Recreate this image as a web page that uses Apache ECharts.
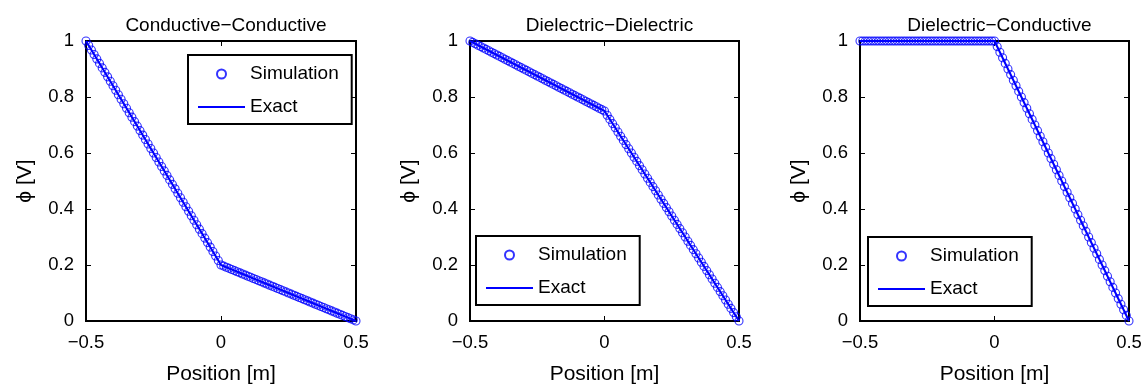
<!DOCTYPE html>
<html>
<head>
<meta charset="utf-8">
<script src="https://cdn.jsdelivr.net/npm/echarts@6/dist/echarts.min.js"></script>
<style>
html, body { margin: 0; padding: 0; background: #fff; }
#echarts { width: 1145px; height: 390px; }
</style>
</head>
<body>
<div id="echarts"></div>
<script>
// 子图标题
var titles = ['Conductive\u2212Conductive', 'Dielectric\u2212Dielectric', 'Dielectric\u2212Conductive'];

// 仿真点的位置 (m)
var positions = [
  -0.50, -0.49, -0.48, -0.47, -0.46, -0.45, -0.44, -0.43, -0.42, -0.41,
  -0.40, -0.39, -0.38, -0.37, -0.36, -0.35, -0.34, -0.33, -0.32, -0.31,
  -0.30, -0.29, -0.28, -0.27, -0.26, -0.25, -0.24, -0.23, -0.22, -0.21,
  -0.20, -0.19, -0.18, -0.17, -0.16, -0.15, -0.14, -0.13, -0.12, -0.11,
  -0.10, -0.09, -0.08, -0.07, -0.06, -0.05, -0.04, -0.03, -0.02, -0.01,
  0.00,
  0.01, 0.02, 0.03, 0.04, 0.05, 0.06, 0.07, 0.08, 0.09, 0.10,
  0.11, 0.12, 0.13, 0.14, 0.15, 0.16, 0.17, 0.18, 0.19, 0.20,
  0.21, 0.22, 0.23, 0.24, 0.25, 0.26, 0.27, 0.28, 0.29, 0.30,
  0.31, 0.32, 0.33, 0.34, 0.35, 0.36, 0.37, 0.38, 0.39, 0.40,
  0.41, 0.42, 0.43, 0.44, 0.45, 0.46, 0.47, 0.48, 0.49, 0.50
];

// 仿真电势 (V)
var ccSimulation = [
  1.000, 0.984, 0.968, 0.952, 0.936, 0.920, 0.904, 0.888, 0.872, 0.856,
  0.840, 0.824, 0.808, 0.792, 0.776, 0.760, 0.744, 0.728, 0.712, 0.696,
  0.680, 0.664, 0.648, 0.632, 0.616, 0.600, 0.584, 0.568, 0.552, 0.536,
  0.520, 0.504, 0.488, 0.472, 0.456, 0.440, 0.424, 0.408, 0.392, 0.376,
  0.360, 0.344, 0.328, 0.312, 0.296, 0.280, 0.264, 0.248, 0.232, 0.216,
  0.200,
  0.196, 0.192, 0.188, 0.184, 0.180, 0.176, 0.172, 0.168, 0.164, 0.160,
  0.156, 0.152, 0.148, 0.144, 0.140, 0.136, 0.132, 0.128, 0.124, 0.120,
  0.116, 0.112, 0.108, 0.104, 0.100, 0.096, 0.092, 0.088, 0.084, 0.080,
  0.076, 0.072, 0.068, 0.064, 0.060, 0.056, 0.052, 0.048, 0.044, 0.040,
  0.036, 0.032, 0.028, 0.024, 0.020, 0.016, 0.012, 0.008, 0.004, 0.000
];
var ddSimulation = [
  1.000, 0.995, 0.990, 0.985, 0.980, 0.975, 0.970, 0.965, 0.960, 0.955,
  0.950, 0.945, 0.940, 0.935, 0.930, 0.925, 0.920, 0.915, 0.910, 0.905,
  0.900, 0.895, 0.890, 0.885, 0.880, 0.875, 0.870, 0.865, 0.860, 0.855,
  0.850, 0.845, 0.840, 0.835, 0.830, 0.825, 0.820, 0.815, 0.810, 0.805,
  0.800, 0.795, 0.790, 0.785, 0.780, 0.775, 0.770, 0.765, 0.760, 0.755,
  0.750,
  0.735, 0.720, 0.705, 0.690, 0.675, 0.660, 0.645, 0.630, 0.615, 0.600,
  0.585, 0.570, 0.555, 0.540, 0.525, 0.510, 0.495, 0.480, 0.465, 0.450,
  0.435, 0.420, 0.405, 0.390, 0.375, 0.360, 0.345, 0.330, 0.315, 0.300,
  0.285, 0.270, 0.255, 0.240, 0.225, 0.210, 0.195, 0.180, 0.165, 0.150,
  0.135, 0.120, 0.105, 0.090, 0.075, 0.060, 0.045, 0.030, 0.015, 0.000
];
var dcSimulation = [
  1, 1, 1, 1, 1, 1, 1, 1, 1, 1,
  1, 1, 1, 1, 1, 1, 1, 1, 1, 1,
  1, 1, 1, 1, 1, 1, 1, 1, 1, 1,
  1, 1, 1, 1, 1, 1, 1, 1, 1, 1,
  1, 1, 1, 1, 1, 1, 1, 1, 1, 1,
  1,
  0.98, 0.96, 0.94, 0.92, 0.90, 0.88, 0.86, 0.84, 0.82, 0.80,
  0.78, 0.76, 0.74, 0.72, 0.70, 0.68, 0.66, 0.64, 0.62, 0.60,
  0.58, 0.56, 0.54, 0.52, 0.50, 0.48, 0.46, 0.44, 0.42, 0.40,
  0.38, 0.36, 0.34, 0.32, 0.30, 0.28, 0.26, 0.24, 0.22, 0.20,
  0.18, 0.16, 0.14, 0.12, 0.10, 0.08, 0.06, 0.04, 0.02, 0.00
];

// 解析解 (折点)
var exactPositions = [-0.5, 0, 0.5];
var ccExact = [1, 0.2, 0];
var ddExact = [1, 0.75, 0];
var dcExact = [1, 1, 0];

// 坐标轴刻度
var xTicks = [-0.5, 0, 0.5];
var yTicks = [0, 0.2, 0.4, 0.6, 0.8, 1];

var simulations = [ccSimulation, ddSimulation, dcSimulation];
var exacts = [ccExact, ddExact, dcExact];

// 布局 (像素)
var gridBoxes = [
  { left: 86, width: 270 },
  { left: 470, width: 269 },
  { left: 860, width: 269 }
];
var legendBoxes = [
  { left: 188, top: 55 },
  { left: 476, top: 236 },
  { left: 868, top: 237 }
];

var FONT = "'Liberation Sans', Arial, Helvetica, sans-serif";
var BLUE = '#0000ff';

function pairs(xs, ys) {
  var out = [];
  for (var i = 0; i < xs.length; i++) out.push([xs[i], ys[i]]);
  return out;
}
function minusSign(v) {
  return String(v).replace('-', '\u2212');
}

function drawEcharts() {
  var myChart = echarts.init(document.getElementById('echarts'), null, { renderer: 'canvas' });
  var option = {
    animation: false,
    backgroundColor: '#fff',
    textStyle: { fontFamily: FONT },
    title: [], grid: [], xAxis: [], yAxis: [], legend: [], series: []
  };

  for (var i = 0; i < 3; i++) {
    var g = gridBoxes[i];
    option.title.push({
      text: titles[i],
      left: g.left + g.width / 2,
      top: 11,
      textAlign: 'center',
      textStyle: { fontFamily: FONT, fontSize: 19, fontWeight: 'normal', color: '#000' }
    });
    option.grid.push({
      left: g.left, width: g.width, top: 41, height: 281,
      show: true, borderColor: '#000', borderWidth: 2, backgroundColor: 'transparent'
    });

    var tickStyle = { inside: true, length: 5, lineStyle: { color: '#000', width: 1 } };
    // 下方 x 轴
    option.xAxis.push({
      gridIndex: i, type: 'value', position: 'bottom',
      min: xTicks[0], max: xTicks[xTicks.length - 1], interval: 0.5,
      axisLine: { show: false, onZero: false },
      axisTick: tickStyle,
      splitLine: { show: false },
      axisLabel: { fontFamily: FONT, fontSize: 18.5, color: '#000', margin: 12, formatter: minusSign },
      name: 'Position [m]', nameLocation: 'middle', nameGap: 43,
      nameTextStyle: { fontFamily: FONT, fontSize: 21, color: '#000' }
    });
    // 上方 x 轴 (只画刻度)
    option.xAxis.push({
      gridIndex: i, type: 'value', position: 'top',
      min: xTicks[0], max: xTicks[xTicks.length - 1], interval: 0.5,
      axisLine: { show: false, onZero: false },
      axisTick: tickStyle,
      splitLine: { show: false },
      axisLabel: { show: false }
    });
    // 左侧 y 轴
    option.yAxis.push({
      gridIndex: i, type: 'value', position: 'left',
      min: yTicks[0], max: yTicks[yTicks.length - 1], interval: 0.2,
      axisLine: { show: false, onZero: false },
      axisTick: tickStyle,
      splitLine: { show: false },
      axisLabel: { fontFamily: FONT, fontSize: 18.5, color: '#000', margin: 12 },
      name: '\u03d5 [V]', nameLocation: 'middle', nameGap: 50, nameRotate: 90,
      nameTextStyle: { fontFamily: FONT, fontSize: 21, color: '#000' }
    });
    // 右侧 y 轴 (只画刻度)
    option.yAxis.push({
      gridIndex: i, type: 'value', position: 'right',
      min: yTicks[0], max: yTicks[yTicks.length - 1], interval: 0.2,
      axisLine: { show: false, onZero: false },
      axisTick: tickStyle,
      splitLine: { show: false },
      axisLabel: { show: false }
    });

    option.legend.push({
      // Exact 用细长矩形代替默认的“线+圆点”图标
      data: ['Simulation', { name: 'Exact', icon: 'path://M0,0 L47,0 L47,2 L0,2 Z' }],
      orient: 'vertical',
      left: legendBoxes[i].left, top: legendBoxes[i].top,
      padding: [9, 13, 7, 10],
      itemWidth: 47, itemHeight: 9, itemGap: 13,
      backgroundColor: '#fff', borderColor: '#000', borderWidth: 2, borderRadius: 0,
      selectedMode: false,
      textStyle: { fontFamily: FONT, fontSize: 19, lineHeight: 20, color: '#000' }
    });

    option.series.push({
      name: 'Simulation', type: 'scatter',
      xAxisIndex: 2 * i, yAxisIndex: 2 * i,
      data: pairs(positions, simulations[i]),
      symbol: 'circle', symbolSize: 8, clip: false,
      itemStyle: { color: 'rgba(0,0,0,0)', borderColor: BLUE, borderWidth: 1.1 },
      z: 3
    });
    option.series.push({
      name: 'Exact', type: 'line',
      xAxisIndex: 2 * i, yAxisIndex: 2 * i,
      data: pairs(exactPositions, exacts[i]),
      symbol: 'none', clip: false,
      lineStyle: { color: BLUE, width: 2 },
      itemStyle: { color: BLUE },
      z: 4
    });
  }

  myChart.setOption(option);
}

drawEcharts();
</script>
</body>
</html>
